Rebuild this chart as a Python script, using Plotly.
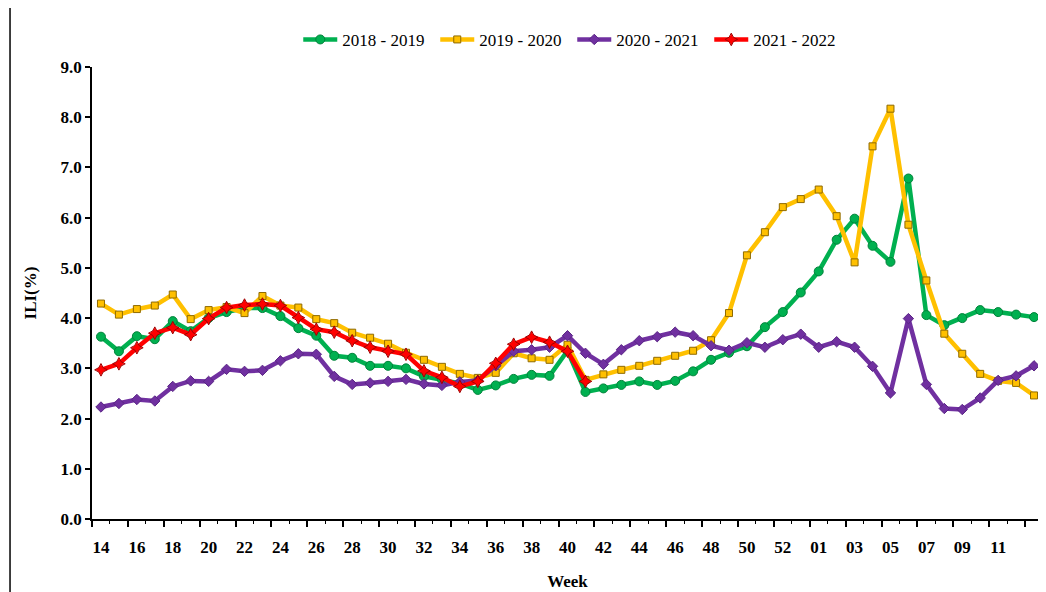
import plotly.graph_objects as go

weeks = [str(w) for w in range(14, 54)] + ["%02d" % w for w in range(1, 14)]

ili_2018_2019 = [3.63, 3.34, 3.64, 3.58, 3.94, 3.74, 4.00, 4.12, 4.20, 4.20,
                 4.04, 3.80, 3.65, 3.25, 3.21, 3.05, 3.05, 3.00, 2.84, 2.78,
                 2.70, 2.57, 2.66, 2.79, 2.87, 2.85, 3.35, 2.53, 2.60, 2.67,
                 2.74, 2.67, 2.75, 2.94, 3.17, 3.31, 3.44, 3.82, 4.12, 4.51,
                 4.93, 5.56, 5.98, 5.44, 5.12, 6.78, 4.06, 3.86, 4.00, 4.16,
                 4.12, 4.07, 4.02]
ili_2019_2020 = [4.29, 4.07, 4.18, 4.25, 4.47, 3.98, 4.16, 4.22, 4.10, 4.44,
                 4.25, 4.21, 3.98, 3.90, 3.71, 3.61, 3.49, 3.31, 3.17, 3.03,
                 2.89, 2.81, 2.91, 3.30, 3.20, 3.17, 3.47, 2.77, 2.88, 2.97,
                 3.05, 3.15, 3.25, 3.35, 3.56, 4.10, 5.25, 5.71, 6.21, 6.37,
                 6.56, 6.03, 5.11, 7.42, 8.17, 5.86, 4.75, 3.69, 3.29, 2.89,
                 2.75, 2.71, 2.46]
ili_2020_2021 = [2.23, 2.30, 2.38, 2.35, 2.64, 2.75, 2.74, 2.98, 2.94, 2.96,
                 3.15, 3.29, 3.28, 2.84, 2.68, 2.71, 2.74, 2.78, 2.69, 2.66,
                 2.73, 2.76, 3.05, 3.34, 3.37, 3.42, 3.65, 3.30, 3.08, 3.37,
                 3.55, 3.63, 3.72, 3.65, 3.45, 3.36, 3.51, 3.42, 3.57, 3.68,
                 3.42, 3.53, 3.42, 3.04, 2.51, 3.99, 2.68, 2.20, 2.18, 2.41,
                 2.76, 2.85, 3.05]
ili_2021_2022 = [2.97, 3.09, 3.41, 3.70, 3.81, 3.67, 3.99, 4.21, 4.26, 4.28,
                 4.25, 4.01, 3.78, 3.72, 3.55, 3.42, 3.34, 3.28, 2.95, 2.82,
                 2.64, 2.74, 3.10, 3.48, 3.62, 3.52, 3.34, 2.74]

series = [
    ("2018 - 2019", ili_2018_2019, "#00B050", "#00823A", "circle", 9),
    ("2019 - 2020", ili_2019_2020, "#FFC000", "#8F6A00", "square", 7),
    ("2020 - 2021", ili_2020_2021, "#7030A0", "#5A2585", "diamond", 8),
    ("2021 - 2022", ili_2021_2022, "#FF0000", "#A00000", "star-diamond", 9),
]

idx = list(range(len(weeks)))
serif = "Liberation Serif, Times New Roman, serif"

fig = go.Figure()
for name, vals, col, edge, sym, sz in series:
    fig.add_trace(go.Scatter(
        x=idx[:len(vals)], y=vals, name=name, mode="lines+markers",
        customdata=weeks[:len(vals)],
        hovertemplate="Week %{customdata}: %{y:.2f}<extra>" + name + "</extra>",
        line=dict(color=col, width=4.5),
        marker=dict(symbol=sym, size=sz, color=col, line=dict(color=edge, width=1)),
    ))

# labels every second week, ticks sit on the category boundaries
major = [i - 0.5 for i in idx[::2]]
labels = weeks[::2][:-1] + [""]

# the page body adds an 8px offset, margins account for it
fig.update_layout(
    width=1046, height=592,
    paper_bgcolor="white", plot_bgcolor="white",
    margin=dict(l=84, r=11, t=59, b=81, autoexpand=False),
    font=dict(family=serif, color="black"),
    legend=dict(orientation="h", x=0.505, xanchor="center", y=1.06, yanchor="middle",
                font=dict(size=17, family=serif), itemwidth=34, tracegroupgap=0,
                entrywidth=88, entrywidthmode="pixels"),
    showlegend=True,
)
fig.update_xaxes(
    range=[-0.5, len(weeks) - 0.5], tickmode="array", tickvals=major, ticktext=labels,
    ticklabelshift=9, ticklabelstandoff=6, ticks="outside", ticklen=6, tickwidth=1.5,
    tickcolor="black",
    minor=dict(tickmode="array", tickvals=[i + 0.5 for i in idx[::2]],
               ticks="outside", ticklen=3, tickwidth=1, tickcolor="black"),
    showline=True, linecolor="black", linewidth=1.5, showgrid=False, zeroline=False,
    tickfont=dict(size=17, family=serif, weight="bold"),
    title=dict(text="<b>Week</b>", font=dict(size=17, family=serif), standoff=19),
)
fig.update_yaxes(
    range=[0, 9], dtick=1, tickformat=".1f", ticks="outside", ticklen=5,
    tickwidth=1.5, tickcolor="black", showline=True, linecolor="black", linewidth=1.5,
    showgrid=False, zeroline=False,
    tickfont=dict(size=17, family=serif, weight="bold"),
    title=dict(text="<b>ILI(%)</b>", font=dict(size=17, family=serif), standoff=20),
)
fig.add_shape(type="line", xref="paper", yref="paper", x0=-0.0862, x1=-0.0862,
              y0=-0.2, y1=1.2, line=dict(color="black", width=1.5))

fig.write_html("out.html")
